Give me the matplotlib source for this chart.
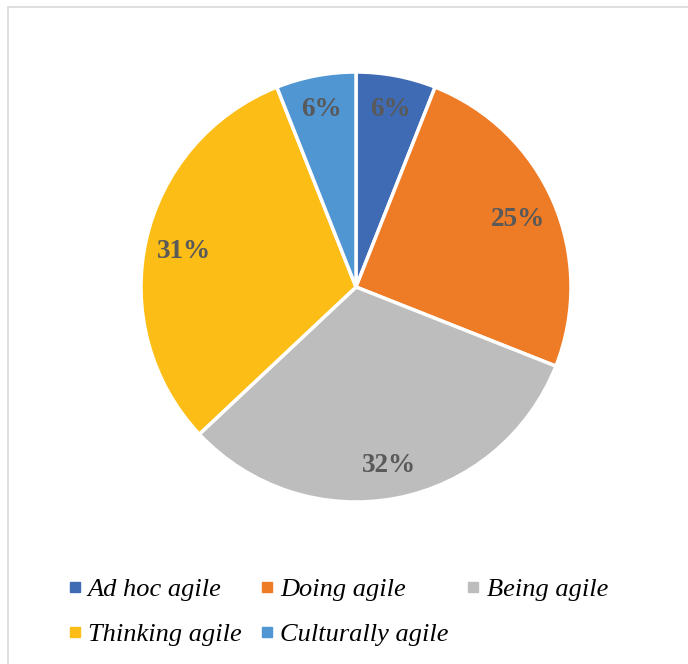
import numpy as np
import matplotlib.pyplot as plt
import matplotlib.transforms as mtransforms
from matplotlib.lines import Line2D
from matplotlib.patches import Rectangle

# === Data ===
categories = ["Ad hoc agile", "Doing agile", "Being agile", "Thinking agile", "Culturally agile"]
shares = [6, 25, 32, 31, 6]
colors = ["#3E6BB4", "#EE7B25", "#BDBDBD", "#FBBD16", "#4F96D3"]
label_dist = [0.855, 0.82, 0.83, 0.82, 0.855]  # radial position of each % label

W, H = 688, 664
fig = plt.figure(figsize=(W / 100, H / 100), dpi=100)

# light frame round the chart area
fig.patches.append(Rectangle((8 / W, -0.1), 1.2, 1 - 7 / H + 0.1, transform=fig.transFigure,
                             fill=False, edgecolor="#D9D9D9", linewidth=1.2))

# === Pie ===
cx, cy, r = 356, 287, 215
lim = 1.01
ax = fig.add_axes([(cx - r * lim) / W, 1 - (cy + r * lim) / H, 2 * r * lim / W, 2 * r * lim / H])
wedges, texts, autotexts = ax.pie(
    shares, colors=colors, startangle=90, counterclock=False,
    autopct=lambda p: f"{p:.0f}%", pctdistance=0.83,
    wedgeprops=dict(edgecolor="white", linewidth=2.5),
    textprops=dict(family="Liberation Serif", fontweight="bold", fontsize=19.5, color="#595959"),
)
# nudge labels a little lower so the digits sit centred on their spot
shift = mtransforms.ScaledTranslation(0, -3 / 100, fig.dpi_scale_trans)
for w, t, d in zip(wedges, autotexts, label_dist):
    a = np.deg2rad((w.theta1 + w.theta2) / 2)
    t.set_position((d * np.cos(a), d * np.sin(a)))
    t.set_transform(ax.transData + shift)
ax.set_xlim(-lim, lim)
ax.set_ylim(-lim, lim)
ax.set_aspect("equal")

# === Legend (row-wise order) ===
handles = [Line2D([], [], marker="s", linestyle="", color=c, markersize=7.2) for c in colors]
order = [0, 3, 1, 4, 2]
fig.legend([handles[i] for i in order], [categories[i] for i in order],
           ncol=3, loc="upper left", bbox_to_anchor=(68 / W, 1 - 578 / H),
           frameon=False, handlelength=0.5, handletextpad=0.25, columnspacing=0.7,
           labelspacing=0.8, borderpad=0, borderaxespad=0,
           prop=dict(family="Liberation Serif", style="italic", size=19))

fig.savefig("out.png", dpi=100)
